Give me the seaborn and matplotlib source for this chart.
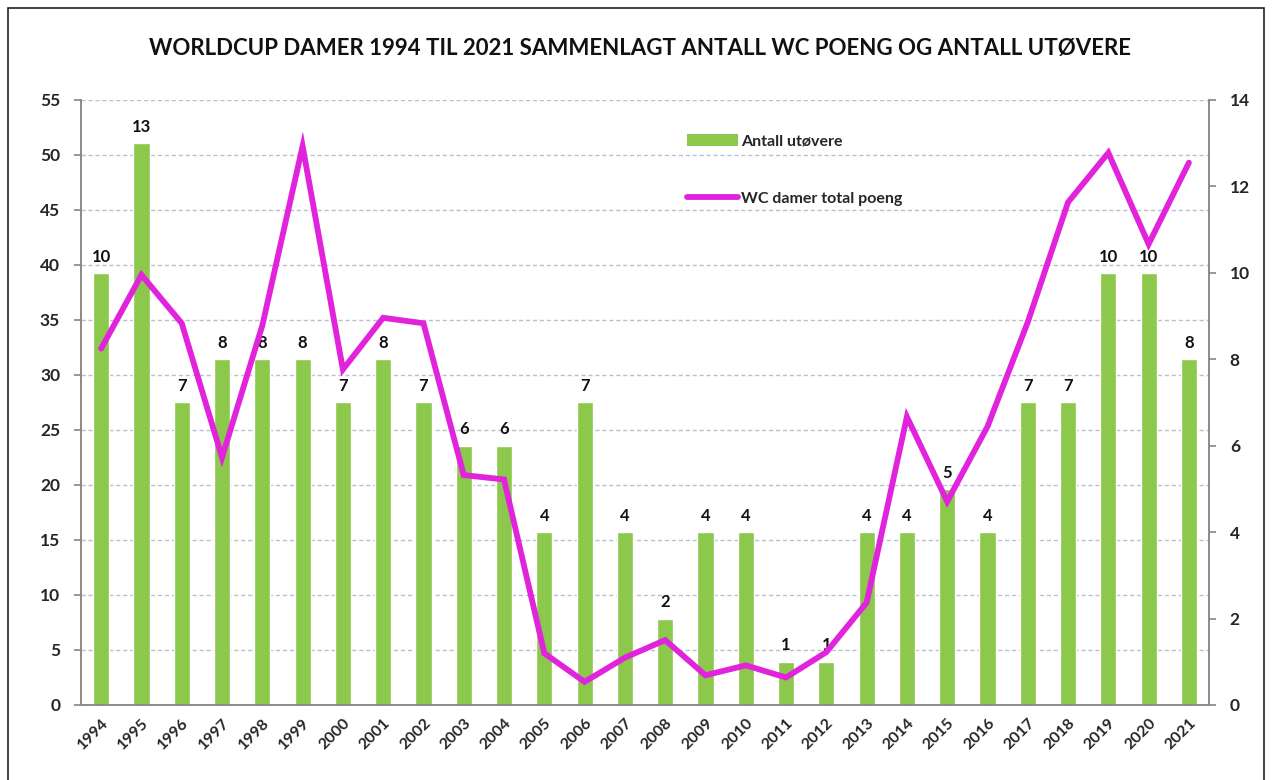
"""
Worldcup damer 1994-2021: antall utøvere (søyler) og sammenlagt WC-poeng (linje).
"""

import matplotlib
matplotlib.use("Agg")
import matplotlib.pyplot as plt
from matplotlib.patches import Rectangle, Patch
from matplotlib.lines import Line2D
import numpy as np
import pandas as pd
import seaborn as sns

# ── Data ───────────────────────────────────────────────────────────────────
YEARS = [str(y) for y in range(1994, 2022)]
ATHLETES = [10, 13, 7, 8, 8, 8, 7, 8, 7, 6, 6, 4, 7, 4, 2, 4, 4, 1, 1, 4,
            4, 5, 4, 7, 7, 10, 10, 8]
POINTS = [32.4, 39.1, 34.7, 22.5, 34.5, 50.8, 30.5, 35.2, 34.7, 20.9, 20.5,
          4.7, 2.1, 4.3, 5.9, 2.7, 3.6, 2.5, 4.8, 9.3, 26.2, 18.5, 25.3,
          34.8, 45.7, 50.2, 41.9, 49.3]
LEFT_TICKS = list(range(0, 56, 5))
RIGHT_TICKS = list(range(0, 15, 2))

TITLE = "WORLDCUP DAMER 1994 TIL 2021 SAMMENLAGT ANTALL WC POENG OG ANTALL UTØVERE"
BAR_LABEL = "Antall utøvere"
LINE_LABEL = "WC damer total poeng"

GREEN = "#8CC84B"
MAGENTA = "#E124DC"
GRID = "#B9C0CC"
AXIS = "#8A8A8A"

df = pd.DataFrame({"year": YEARS, "athletes": ATHLETES, "points": POINTS})
df["pos"] = np.arange(len(df))

# ── Style ──────────────────────────────────────────────────────────────────
sns.set_theme(style="white")
plt.rcParams["font.family"] = ["Lato", "DejaVu Sans"]
plt.rcParams["font.weight"] = "bold"

fig = plt.figure(figsize=(12.72, 7.8), dpi=100)
ax = fig.add_axes([0.0637, 0.0962, 0.9505 - 0.0637, 0.8718 - 0.0962])
ax2 = ax.twinx()

# line axes on top of the bar axes
ax.set_zorder(ax2.get_zorder() + 1)
ax.patch.set_visible(False)

# ── Bars (right axis) ──────────────────────────────────────────────────────
RMAX, LMAX = RIGHT_TICKS[-1], LEFT_TICKS[-1]
for t in LEFT_TICKS[1:]:
    ax2.axhline(t * RMAX / LMAX, color=GRID, lw=1.0, ls=(0, (3, 2)), zorder=0)

sns.barplot(data=df, x="pos", y="athletes", ax=ax2, color=GREEN,
            saturation=1, width=0.4, native_scale=True, zorder=2)
ax2.bar_label(ax2.containers[0], fontsize=12, fontweight="bold",
              padding=6, color="#111111")

# ── Line (left axis) ───────────────────────────────────────────────────────
sns.lineplot(data=df, x="pos", y="points", ax=ax, color=MAGENTA,
             linewidth=4.2, solid_joinstyle="miter")

# ── Axes ───────────────────────────────────────────────────────────────────
n = len(df)
ax.set_xlim(-0.5, n - 0.5)
ax.set_ylim(0, LMAX)
ax2.set_ylim(0, RMAX)
ax.set_yticks(LEFT_TICKS)
ax2.set_yticks(RIGHT_TICKS)
ax.set_xticks(df["pos"])
ax.set_xticklabels(df["year"], rotation=45, ha="right", rotation_mode="anchor",
                   fontsize=11.5, fontweight="bold")
ax.set_xticks(np.arange(n + 1) - 0.5, minor=True)
ax.tick_params(axis="x", which="major", length=0, pad=8)
ax.tick_params(axis="x", which="minor", length=6, color=AXIS, direction="out")
ax.tick_params(axis="y", length=5, color=AXIS, direction="out", labelsize=12.5,
               pad=10)
ax2.tick_params(axis="y", length=5, color=AXIS, direction="out", labelsize=12.5,
                pad=10)
for lab in ax.get_yticklabels() + ax2.get_yticklabels():
    lab.set_fontweight("bold")
ax.set_xlabel("")
ax.set_ylabel("")
ax2.set_xlabel("")
ax2.set_ylabel("")

for a in (ax, ax2):
    a.spines["top"].set_visible(False)
    for s in ("left", "right", "bottom"):
        a.spines[s].set_color(AXIS)
        a.spines[s].set_linewidth(1.2)

# ── Legend ─────────────────────────────────────────────────────────────────
handles = [Patch(facecolor=GREEN, edgecolor="none"),
           Line2D([], [], color=MAGENTA, lw=4.2)]
leg = ax.legend(handles, [BAR_LABEL, LINE_LABEL], loc="upper left",
                bbox_to_anchor=(0.535, 0.837), bbox_transform=fig.transFigure,
                frameon=False, handlelength=3.2, handleheight=0.8,
                labelspacing=2.7, handletextpad=0.2, borderaxespad=0,
                prop={"size": 11.5, "weight": "bold"})

# ── Title & frame ──────────────────────────────────────────────────────────
fig.text(0.503, 0.938, TITLE, ha="center", va="center", fontsize=16,
         fontweight="bold", color="#111111")
fig.patches.append(Rectangle((0.006, -0.01), 0.988, 1.0, transform=fig.transFigure,
                             fill=False, edgecolor="#222222", lw=1.2))

fig.savefig("out.png", dpi=100)
